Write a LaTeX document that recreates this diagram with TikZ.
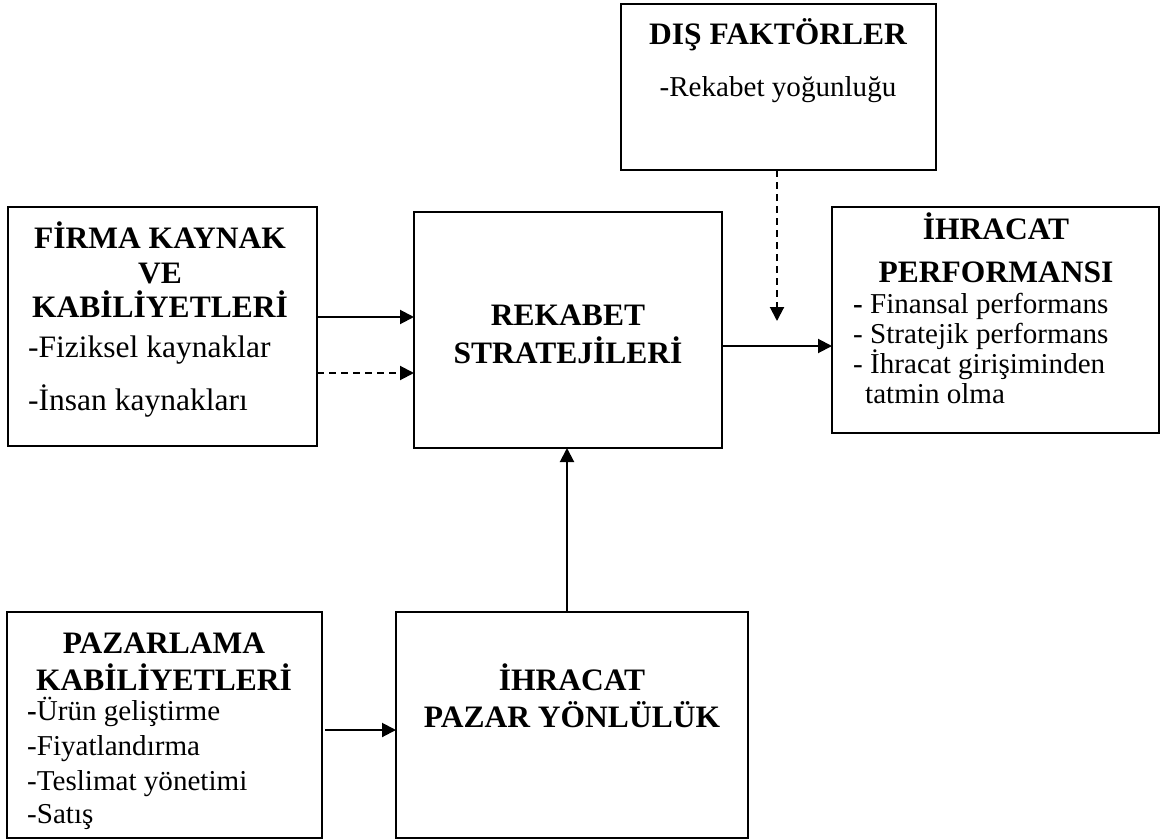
\documentclass[tikz,border=0pt]{standalone}
\usepackage{fontspec}
\setmainfont{Liberation Serif}[FakeStretch=1.01]
\usetikzlibrary{arrows.meta}
\begin{document}
\begin{tikzpicture}[x=1pt,y=-1pt,
 box/.style={draw,line width=2pt,inner sep=0pt,outer sep=0pt},
 hd/.style={font=\fontsize{31.2}{36}\selectfont\bfseries,anchor=base,inner sep=0pt},
 bd/.style={font=\fontsize{31.2}{36}\selectfont,anchor=base west,inner sep=0pt},
 bs/.style={font=\fontsize{28.8}{33}\selectfont,anchor=base west,inner sep=0pt},
 bsc/.style={bs,anchor=base},
 arr/.style={line width=2pt,-{Triangle[length=14pt,width=14pt]}},
 darr/.style={arr,dash pattern=on 7pt off 5pt}]
\useasboundingbox[fill=white] (0,0) rectangle (1164,840);
% boxes
\node[box,minimum width=309pt,minimum height=239pt] (f) at (162.5,326.5) {};
\node[box,minimum width=308pt,minimum height=236pt] (r) at (568,330) {};
\node[box,minimum width=327pt,minimum height=226pt] (p) at (995.5,320) {};
\node[box,minimum width=315pt,minimum height=166pt] (d) at (778.5,87) {};
\node[box,minimum width=315pt,minimum height=226pt] (m) at (164.5,725) {};
\node[box,minimum width=352pt,minimum height=226pt] (o) at (572,725) {};
% texts: FIRMA
\node[hd] (f1) at (160,248) {FİRMA KAYNAK};
\node[hd] (f2) at (160,283) {VE};
\node[hd] (f3) at (160,317) {KABİLİYETLERİ};
\node[bd] (f4) at (28,357) {-Fiziksel kaynaklar};
\node[bd] (f5) at (28,410) {-İnsan kaynakları};
% REKABET
\node[hd] (r1) at (568,325) {REKABET};
\node[hd] (r2) at (568,363) {STRATEJİLERİ};
% DIS
\node[hd] (d1) at (778,45) {DIŞ FAKTÖRLER};
\node[bsc] (d2) at (778,97) {-Rekabet yoğunluğu};
% PERF
\node[hd] (p1) at (996,239) {İHRACAT};
\node[hd] (p2) at (996,282) {PERFORMANSI};
\node[bs] (p3) at (853,313) {\textbf{-} Finansal performans};
\node[bs] (p4) at (853,343) {- Stratejik performans};
\node[bs] (p5) at (853,373) {- İhracat girişiminden};
\node[bs] (p6) at (865,403) {tatmin olma};
% PAZARLAMA
\node[hd] (m1) at (164,653) {PAZARLAMA};
\node[hd] (m2) at (164,690) {KABİLİYETLERİ};
\node[bs] (m3) at (27,720) {\textbf{-}Ürün geliştirme};
\node[bs] (m4) at (27,755) {-Fiyatlandırma};
\node[bs] (m5) at (27,790) {-Teslimat yönetimi};
\node[bs] (m6) at (27,823) {-Satış};
% IHRACAT PAZAR
\node[hd] (o1) at (572,690) {İHRACAT};
\node[hd] (o2) at (572,727) {PAZAR YÖNLÜLÜK};
% connectors
\coordinate (y1) at (0,317);
\coordinate (y2) at (0,373);
\coordinate (y3) at (0,346);
\coordinate (y4) at (0,730);
\coordinate (vx) at (567,0);
\coordinate (dtip) at (777,321);
\draw[arr] (f.east |- y1) -- (r.west |- y1);
\draw[darr] (f.east |- y2) -- (r.west |- y2);
\draw[arr] (r.east |- y3) -- (p.west |- y3);
\draw[darr] (dtip |- d.south) -- (dtip);
\draw[arr] ([xshift=3pt]m.east |- y4) -- (o.west |- y4);
\draw[arr] (o.north -| vx) -- (r.south -| vx);
\end{tikzpicture}
\end{document}
